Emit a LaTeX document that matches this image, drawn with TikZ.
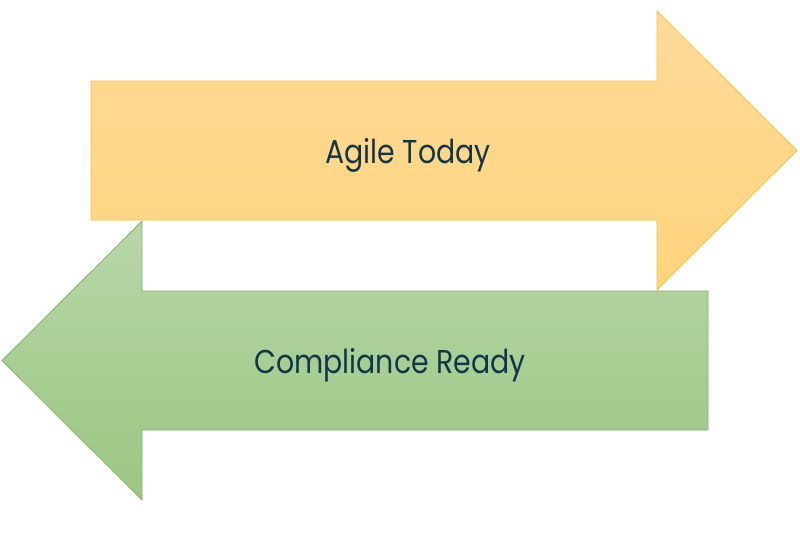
\documentclass[tikz,border=0pt]{standalone}
\usepackage{fontspec}
\setmainfont{Poppins}
\definecolor{txt}{HTML}{12354A}
\definecolor{orTop}{HTML}{FDDA9A}
\definecolor{orBot}{HTML}{FFD47C}
\definecolor{orLine}{HTML}{F6C343}
\definecolor{grTop}{HTML}{B7D7A8}
\definecolor{grBot}{HTML}{9CC682}
\definecolor{grLine}{HTML}{82B366}
\tikzset{
  orarrow/.style={draw=orLine, line width=0.8pt, top color=orTop, bottom color=orBot, line join=miter},
  grarrow/.style={draw=grLine, line width=0.8pt, top color=grTop, bottom color=grBot, line join=miter},
  lbl/.style={text=txt, font=\fontsize{33}{40}\selectfont, anchor=base, inner sep=0pt, xscale=0.86}
}
\begin{document}
\begin{tikzpicture}[x=1pt,y=-1pt]
\useasboundingbox (0,0) rectangle (800,533);
\draw[orarrow] (91,81) -- (657,81) -- (657,11) -- (797,150.5) -- (657,290) -- (657,220) -- (91,220) -- cycle;
\draw[grarrow] (708,291) -- (142,291) -- (142,221) -- (2,360.5) -- (142,500) -- (142,430) -- (708,430) -- cycle;
\node[lbl] (agile) at (408,163) {Agile Today};
\node[lbl] (comp) at (390,373) {Compliance Ready};
\end{tikzpicture}
\end{document}
